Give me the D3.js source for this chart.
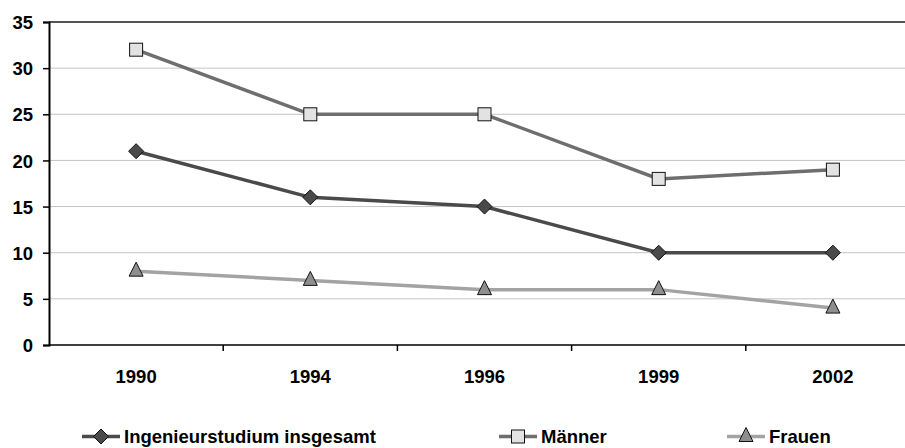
<!DOCTYPE html>
<html>
<head>
<meta charset="utf-8">
<script src="https://cdn.jsdelivr.net/npm/d3@7"></script>
<style>
  html, body { margin: 0; padding: 0; background: #fff; }
  svg { display: block; font-family: "Liberation Sans", Arial, sans-serif; font-weight: bold; }
</style>
</head>
<body>
<svg id="chart" width="905" height="448"></svg>
<script>
// Anteil der Studienabbrecher (in %) nach Jahrgang
const years = ["1990", "1994", "1996", "1999", "2002"];
const insgesamt = [21, 16, 15, 10, 10];
const maenner = [32, 25, 25, 18, 19];
const frauen = [8, 7, 6, 6, 4];
const yTicks = [0, 5, 10, 15, 20, 25, 30, 35];
const seriesNames = ["Ingenieurstudium insgesamt", "Männer", "Frauen"];

const svg = d3.select("#chart");
const plotLeft = 49, plotRight = 920, plotTop = 22, plotBottom = 345;
const fontSize = 18.5;

const x = d3.scaleBand().domain(years).range([plotLeft, plotRight]);
const y = d3.scaleLinear().domain([0, 35]).range([plotBottom, plotTop]);

// Gitterlinien
svg.append("g").selectAll("line")
  .data(yTicks.filter(t => t > 0 && t < 35))
  .join("line")
  .attr("x1", plotLeft).attr("x2", plotRight)
  .attr("y1", d => y(d)).attr("y2", d => y(d))
  .attr("stroke", "#c4c4c4").attr("stroke-width", 1);

// obere Begrenzung
svg.append("line")
  .attr("x1", plotLeft).attr("x2", plotRight)
  .attr("y1", y(35)).attr("y2", y(35))
  .attr("stroke", "#555").attr("stroke-width", 2);

// y-Achse
const yAxis = svg.append("g")
  .attr("transform", `translate(${plotLeft},0)`)
  .call(d3.axisLeft(y).tickValues(yTicks).tickSize(6).tickPadding(10));
yAxis.attr("font-size", fontSize).attr("font-family", "Liberation Sans, Arial, sans-serif");
yAxis.select(".domain").attr("stroke", "#000").attr("stroke-width", 2);
yAxis.selectAll(".tick line").attr("stroke", "#000").attr("stroke-width", 1.5);
yAxis.selectAll("text").attr("font-weight", "bold").attr("fill", "#000").attr("dy", "0.36em");

// x-Achse
const xAxisG = svg.append("g").attr("transform", `translate(0,${plotBottom})`);
xAxisG.append("line")
  .attr("x1", plotLeft).attr("x2", plotRight)
  .attr("stroke", "#000").attr("stroke-width", 1.5);
xAxisG.selectAll("line.tick")
  .data(years.slice(1))
  .join("line").attr("class", "tick")
  .attr("x1", d => x(d)).attr("x2", d => x(d))
  .attr("y1", 0).attr("y2", 6)
  .attr("stroke", "#000").attr("stroke-width", 1.5);
xAxisG.selectAll("text")
  .data(years)
  .join("text")
  .attr("x", d => x(d) + x.bandwidth() / 2)
  .attr("y", 37.5)
  .attr("text-anchor", "middle")
  .attr("font-size", fontSize)
  .attr("fill", "#000")
  .text(d => d);

const cx = d => x(d) + x.bandwidth() / 2;

const series = [
  { name: seriesNames[0], values: insgesamt, line: "#4a4a4a", fill: "#4a4a4a", shape: "diamond" },
  { name: seriesNames[1], values: maenner, line: "#6e6e6e", fill: "#e2e2e2", shape: "square" },
  { name: seriesNames[2], values: frauen, line: "#a3a3a3", fill: "#8e8e8e", shape: "triangle" }
];

function marker(g, shape, px, py, fill) {
  if (shape === "diamond") {
    g.append("path")
      .attr("d", `M${px},${py - 7.5}L${px + 7.5},${py}L${px},${py + 7.5}L${px - 7.5},${py}Z`)
      .attr("fill", fill).attr("stroke", "#111").attr("stroke-width", 1);
  } else if (shape === "square") {
    g.append("rect")
      .attr("x", px - 6.5).attr("y", py - 6.5).attr("width", 13).attr("height", 13)
      .attr("fill", fill).attr("stroke", "#111").attr("stroke-width", 1);
  } else {
    g.append("path")
      .attr("d", `M${px},${py - 9}L${px + 7},${py + 5}L${px - 7},${py + 5}Z`)
      .attr("fill", fill).attr("stroke", "#111").attr("stroke-width", 1);
  }
}

const lineGen = d3.line().x(d => cx(d.year)).y(d => y(d.v));

series.forEach(s => {
  const pts = years.map((yr, i) => ({ year: yr, v: s.values[i] }));
  const g = svg.append("g");
  g.append("path")
    .datum(pts)
    .attr("d", lineGen)
    .attr("fill", "none")
    .attr("stroke", s.line)
    .attr("stroke-width", 3.5);
  pts.forEach(p => marker(g, s.shape, cx(p.year), y(p.v), s.fill));
});

// Legende
const legendX = [82, 499, 727];
const legendY = 436.5;
series.forEach((s, i) => {
  const g = svg.append("g");
  const x0 = legendX[i];
  g.append("line")
    .attr("x1", x0).attr("x2", x0 + 38)
    .attr("y1", legendY).attr("y2", legendY)
    .attr("stroke", s.line).attr("stroke-width", 3.5);
  marker(g, s.shape, x0 + 19, legendY, s.fill);
  g.append("text")
    .attr("x", x0 + 42)
    .attr("y", legendY + 6.5)
    .attr("font-size", fontSize)
    .attr("fill", "#000")
    .text(s.name);
});
</script>
</body>
</html>
